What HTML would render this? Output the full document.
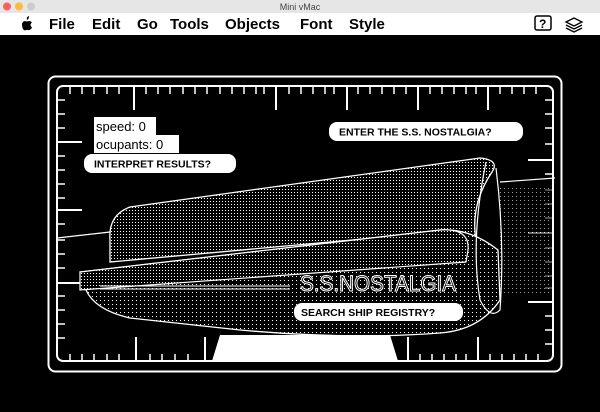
<!DOCTYPE html>
<html><head><meta charset="utf-8"><style>
html,body{margin:0;padding:0;width:600px;height:412px;overflow:hidden;background:#000}
svg{display:block}
.m{font-family:"Liberation Sans",sans-serif;font-weight:bold;font-size:15px;fill:#000}
.p{font-family:"Liberation Sans",sans-serif;font-weight:bold;font-size:10.5px;fill:#000}
</style></head><body>
<svg width="600" height="412" viewBox="0 0 600 412" xmlns="http://www.w3.org/2000/svg">
<defs>
<pattern id="d" width="3" height="3" patternUnits="userSpaceOnUse"><rect width="3" height="3" fill="#000"/><rect width="1" height="1" fill="#fff"/></pattern>
<pattern id="d2" width="4" height="4" patternUnits="userSpaceOnUse"><rect width="4" height="4" fill="#000"/><rect width="1" height="1" fill="#fff"/></pattern>
</defs>
<rect width="600" height="412" fill="#000"/>
<rect width="600" height="13" fill="#e6e6e6"/>
<circle cx="7" cy="6.5" r="4" fill="#fc605b"/><circle cx="19" cy="6.5" r="4" fill="#fdbc40"/><circle cx="31" cy="6.5" r="4" fill="#ccc"/>
<text x="300" y="10" text-anchor="middle" font-family="Liberation Sans,sans-serif" font-size="9" fill="#444">Mini vMac</text>
<rect y="13" width="600" height="22" fill="#fff"/>
<path d="M27 20 Q26 17 29 16 Q29 19 27 20Z M22 24 Q23 20 27 21.5 Q30 20 32 22.5 Q29 24.5 32 27.5 Q30 31 28 30 Q27 29.5 25 30.5 Q22 30 22 24Z" fill="#000"/>
<text x="49" y="29" class="m">File</text>
<text x="92" y="29" class="m">Edit</text>
<text x="137" y="29" class="m">Go</text>
<text x="170" y="29" class="m">Tools</text>
<text x="225" y="29" class="m">Objects</text>
<text x="300" y="29" class="m">Font</text>
<text x="349" y="29" class="m">Style</text>
<rect x="535" y="16" width="16" height="14" rx="2" fill="#fff" stroke="#000" stroke-width="1.5"/>
<text x="539" y="28" font-family="Liberation Sans" font-weight="bold" font-size="12">?</text>
<path d="M566 22 l8-4 8 4 -8 4z M566 25 l8 4 8-4 M566 28 l8 4 8-4" fill="none" stroke="#000" stroke-width="1.3"/>
<rect x="48.5" y="76.5" width="513" height="295" rx="7" fill="none" stroke="#fff" stroke-width="2"/>
<rect x="57" y="86" width="496" height="275" rx="6" fill="none" stroke="#fff" stroke-width="2"/>
<g stroke="#fff" stroke-width="1.5">
<path d="M70 87v7M82 87v7M94 87v7M107 87v7M119 87v7M146 87v7M158 87v7M170 87v7M183 87v7M195 87v7M207 87v7M220 87v7M232 87v7M244 87v7M256 87v7M264 87v7M289 87v7M301 87v7M313 87v7M325 87v7M334 87v7M358 87v7M370 87v7M382 87v7M394 87v7M406 87v7M430 87v7M442 87v7M454 87v7M466 87v7M476 87v7M500 87v7M512 87v7M524 87v7M536 87v7"/>
<path d="M134 87v23M276 87v23M347 87v23M418 87v23M488 87v23" stroke-width="2"/>
<path d="M70 361v-7M82 361v-7M94 361v-7M107 361v-7M119 361v-7M150 361v-7M162 361v-7M175 361v-7M188 361v-7M420 361v-7M432 361v-7M444 361v-7M456 361v-7M466 361v-7M490 361v-7M502 361v-7M514 361v-7M526 361v-7M538 361v-7"/>
<path d="M136 361v-24M205 361v-24M408 361v-24M478 361v-24" stroke-width="2"/>
<path d="M58 100h7M58 114h7M58 128h7M58 156h7M58 170h7M58 184h7M58 198h7M58 224h7M58 240h7M58 254h7M58 268h7M58 296h7M58 310h7M58 324h7M58 338h7"/>
<path d="M58 142h24M58 210h24M58 283h24" stroke-width="2"/>
<path d="M552 100h-7M552 114h-7M552 128h-7M552 144h-7M552 174h-7M552 190h-7M552 204h-7M552 218h-7M552 248h-7M552 262h-7M552 276h-7M552 288h-7M552 316h-7M552 330h-7M552 344h-7"/>
<path d="M552 160h-24M552 233h-24M552 302h-24" stroke-width="2"/>
</g>
<path d="M57 238 L110 232 M500 182 L555 178" stroke="#fff" stroke-width="1.2"/>
<rect x="500" y="185" width="52" height="110" fill="url(#d2)" opacity="0.6"/>
<path d="M110 240 Q108 215 130 207 L480 158 Q500 160 492 172 Q470 205 476 240 L440 232 L110 262 Z" fill="url(#d)" stroke="#fff" stroke-width="1.3"/>
<path d="M80 272 L86 290 Q95 310 130 318 L240 330 Q350 340 440 333 Q480 330 500 300 L498 250 Q470 228 440 230 L80 272 Z" fill="url(#d2)" stroke="#fff" stroke-width="1.3"/>
<path d="M80 272 L440 230 Q470 228 468 250 L466 262 L80 290 Z" fill="url(#d)" stroke="#fff" stroke-width="1.2"/>
<path d="M486 162 Q470 240 480 300 Q490 320 500 310 Q505 240 496 168" fill="none" stroke="#fff" stroke-width="1.2"/>
<path d="M100 286 L290 286 M100 289 L290 289" stroke="#fff" stroke-width="1"/>
<path d="M212 361 L220 335 L390 335 L398 361 Z" fill="#fff"/>
<text x="300" y="291" font-family="Liberation Sans,sans-serif" font-size="22" fill="#000" stroke="#fff" stroke-width="1" textLength="156" lengthAdjust="spacingAndGlyphs">S.S.NOSTALGIA</text>
<rect x="94" y="117" width="62" height="18" fill="#fff"/>
<text x="96" y="131" font-family="Liberation Sans,sans-serif" font-size="13">speed: 0</text>
<rect x="94" y="135" width="85" height="18" fill="#fff"/>
<text x="96" y="149" font-family="Liberation Sans,sans-serif" font-size="13">ocupants: 0</text>
<rect x="84" y="154" width="152" height="19" rx="8" fill="#fff"/>
<text x="94" y="167.5" class="p">INTERPRET RESULTS?</text>
<rect x="329" y="122" width="194" height="19" rx="8" fill="#fff"/>
<text x="339" y="135.5" class="p">ENTER THE S.S. NOSTALGIA?</text>
<rect x="294" y="303" width="169" height="18" rx="8" fill="#fff"/>
<text x="301" y="316" class="p">SEARCH SHIP REGISTRY?</text>
</svg>
</body></html>
